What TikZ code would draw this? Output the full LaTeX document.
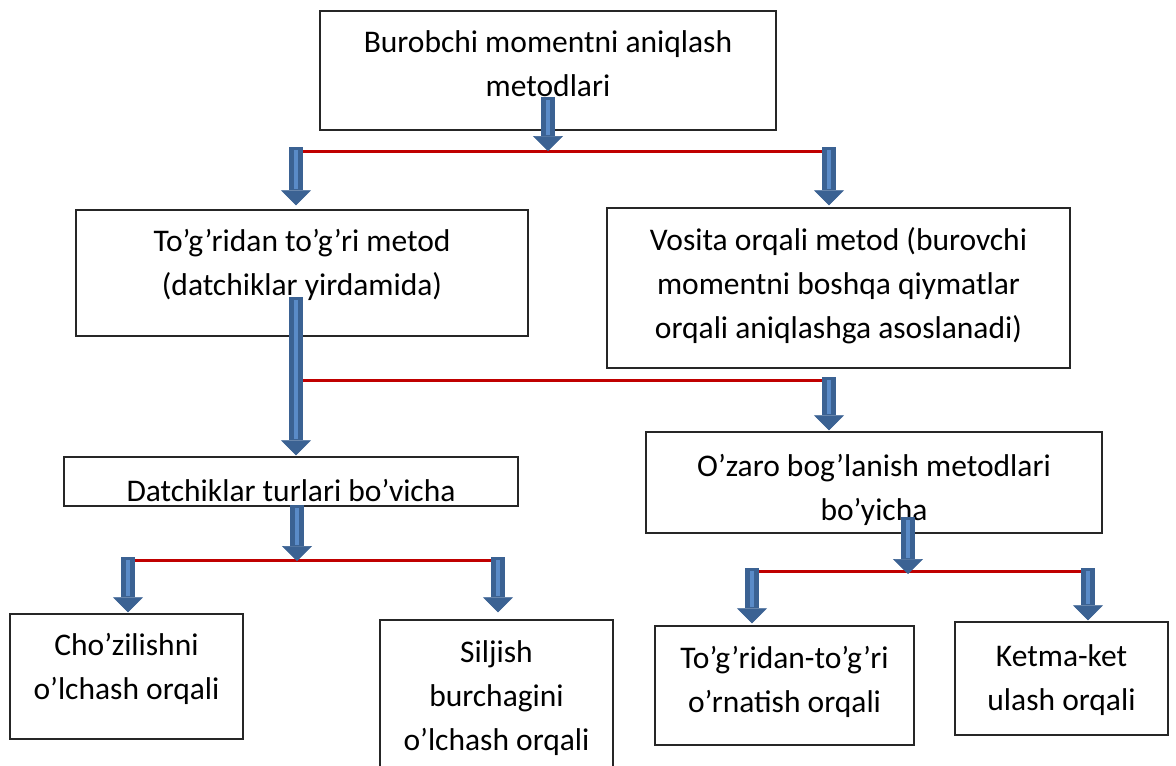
\documentclass[tikz,border=0pt]{standalone}
\usepackage{fontspec}
\setmainfont{Carlito}
\usetikzlibrary{calc,arrows.meta}
\definecolor{frame}{HTML}{262626}
\definecolor{redbar}{HTML}{C00000}
\definecolor{arrowfill}{HTML}{3B6293}
\definecolor{arrowlight}{HTML}{5A8BC8}
\tikzset{
  box/.style={draw=frame, line width=1.4pt, fill=white, inner sep=0pt},
  lab/.style={font=\fontsize{31.5}{44}\selectfont, align=center, inner sep=0pt, anchor=base},
  redline/.style={draw=redbar, line width=3pt},
  blockarrow/.style={draw=arrowfill, line width=14pt,
    -{Triangle[width=30pt,length=15pt,line width=0.6pt]},
    postaction={draw=arrowlight, line width=4pt, arrows=-, shorten >=16pt, shorten <=3pt}},
}

\begin{document}
\begin{tikzpicture}[x=1pt,y=-1pt]
  \useasboundingbox (0,0) rectangle (1176,766);
  \clip (0,0) rectangle (1176,766);

  % boxes
  \node[box, minimum width=456pt, minimum height=119pt] (methods) at (548,70.5) {};
  \node[box, minimum width=452pt, minimum height=126pt] (direct) at (302,273) {};
  \node[box, minimum width=463pt, minimum height=160pt] (indirect) at (838.5,288) {};
  \node[box, minimum width=454pt, minimum height=49pt] (sensors) at (291,481.5) {};
  \node[box, minimum width=456pt, minimum height=101pt] (relation) at (874,482.5) {};
  \node[box, minimum width=233pt, minimum height=125pt] (strain) at (126.5,676.5) {};
  \node[box, minimum width=233pt, minimum height=180pt] (shear) at (496.5,710) {};
  \node[box, minimum width=259pt, minimum height=119pt] (straight) at (784.5,685.5) {};
  \node[box, minimum width=213pt, minimum height=113pt] (series) at (1061.5,678.5) {};

  % texts (anchored at the last line)
  \node[lab] (methodstext) at (548,96) {Burobchi momentni aniqlash\\metodlari};
  \node[lab] (directtext) at (302,295) {To’g’ridan to’g’ri metod\\(datchiklar yirdamida)};
  \node[lab] (indirecttext) at (838.5,338) {Vosita orqali metod (burovchi\\momentni boshqa qiymatlar\\orqali aniqlashga asoslanadi)};
  \node[lab] (sensorstext) at (291,501) {Datchiklar turlari bo’vicha};
  \node[lab] (relationtext) at (874,520) {O’zaro bog’lanish metodlari\\bo’yicha};
  \node[lab] (straintext) at (126.5,699) {Cho’zilishni\\o’lchash orqali};
  \node[lab] (sheartext) at (496.5,750) {Siljish\\burchagini\\o’lchash orqali};
  \node[lab] (straighttext) at (784.5,712) {To’g’ridan-to’g’ri\\o’rnatish orqali};
  \node[lab] (seriestext) at (1061.5,710) {Ketma-ket\\ulash orqali};

  % junctions
  \coordinate (top1) at (548,97);
  \coordinate (lA) at (296,151);
  \coordinate (rA) at (829,151);
  \coordinate (down1) at (296,297);
  \coordinate (lB) at (296,380);
  \coordinate (rB) at (829,380);
  \coordinate (down2) at (297,505);
  \coordinate (lC) at (128,560);
  \coordinate (rC) at (498,560);
  \coordinate (down3) at (908,517);
  \coordinate (lD) at (752,571);
  \coordinate (rD) at (1088,571);

  \draw[redline] (lA) -- (rA);
  \draw[redline] (lB) -- (rB);
  \draw[redline] (lC) -- (rC);
  \draw[redline] (lD) -- (rD);

  \draw[blockarrow] (top1) -- (top1 |- lA);
  \draw[blockarrow] ($(lA)+(0,-4)$) -- ($(lA |- direct.north)+(0,-4)$);
  \draw[blockarrow] ($(rA)+(0,-4)$) -- ($(rA |- indirect.north)+(0,-2)$);
  \draw[blockarrow] (down1) -- ($(down1 |- sensors.north)+(0,-1)$);
  \draw[blockarrow] ($(rB)+(0,-3)$) -- ($(rB |- relation.north)+(0,-1)$);
  \draw[blockarrow] (down2) -- ($(down2 |- lC)+(0,1)$);
  \draw[blockarrow] ($(lC)+(0,-3)$) -- ($(lC |- strain.north)+(0,-1)$);
  \draw[blockarrow] ($(rC)+(0,-3)$) -- ($(rC |- shear.north)+(0,-7)$);
  \draw[blockarrow] (down3) -- ($(down3 |- lD)+(0,3)$);
  \draw[blockarrow] ($(lD)+(0,-3)$) -- ($(lD |- straight.north)+(0,-2)$);
  \draw[blockarrow] ($(rD)+(0,-3)$) -- ($(rD |- series.north)+(0,-1)$);
\end{tikzpicture}
\end{document}
